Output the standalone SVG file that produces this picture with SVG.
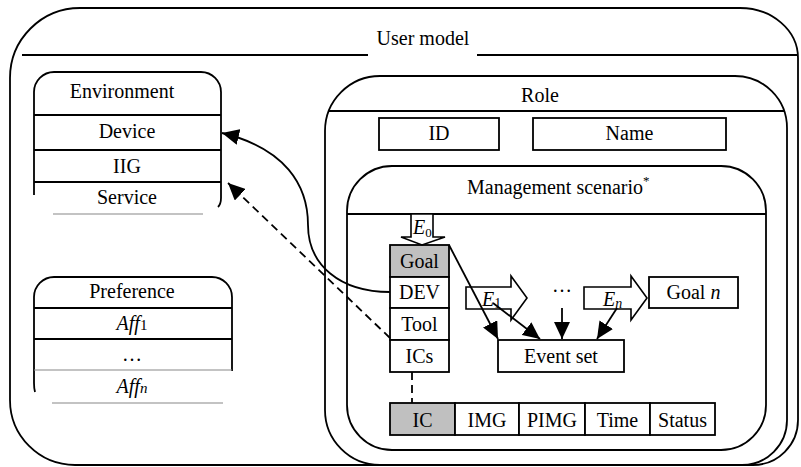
<svg xmlns="http://www.w3.org/2000/svg" width="801" height="467" viewBox="0 0 801 467">
  <defs>
    <marker id="head" markerUnits="userSpaceOnUse" markerWidth="18" markerHeight="16" refX="17" refY="8" orient="auto">
      <path d="M0,0 L17,8 L0,16 Z" fill="#000"/>
    </marker>
    <style>
      .ln { fill: none; stroke: #000; stroke-width: 1.8; }
      .box { fill: #fff; stroke: #000; stroke-width: 1.8; }
      .grey { fill: #c0c0c0; stroke: #000; stroke-width: 1.8; }
      .faint { fill: none; stroke: #888; stroke-width: 1.2; }
      .dash { fill: none; stroke: #000; stroke-width: 1.8; stroke-dasharray: 8 5; }
      .hollow { fill: #fff; stroke: #000; stroke-width: 1.6; stroke-linejoin: miter; }
      text { font-family: "Liberation Serif", "Times New Roman", serif; font-size: 20px; fill: #000; }
      .c { text-anchor: middle; }
      .it { font-style: italic; }
    </style>
  </defs>
  <rect x="0" y="0" width="801" height="467" fill="#fff"/>

  <!-- User model container -->
  <g id="user-model">
    <path class="ln" d="M80,8 L740,8 A58,50 0 0 1 798,58 L798,420 A45,45 0 0 1 753,465 L75,465 A65,65 0 0 1 10,400 L10,78 A70,70 0 0 1 80,8 Z"/>
    <line class="ln" x1="22" y1="55" x2="368" y2="55"/>
    <line class="ln" x1="477" y1="55" x2="798" y2="55"/>
    <text class="c" x="423" y="45">User model</text>
  </g>

  <!-- Environment -->
  <g id="environment">
    <path class="ln" d="M34,195 L34,92 A20,20 0 0 1 54,72 L201,72 A20,20 0 0 1 221,92 L221,198 Q221,204 218,207"/>
    <line class="ln" x1="34" y1="115" x2="221" y2="115"/>
    <line class="ln" x1="34" y1="150" x2="221" y2="150"/>
    <line class="ln" x1="34" y1="182" x2="221" y2="182"/>
    <line class="faint" x1="53" y1="214" x2="203" y2="214"/>
    <text class="c" x="122" y="98">Environment</text>
    <text class="c" x="127" y="138">Device</text>
    <text class="c" x="127" y="173">IIG</text>
    <text class="c" x="127" y="204">Service</text>
  </g>

  <!-- Preference -->
  <g id="preference">
    <path class="ln" d="M35,392 Q34,388 34,383 L34,297 A20,20 0 0 1 54,277 L212,277 A20,20 0 0 1 232,297 L232,371"/>
    <line class="ln" x1="34" y1="308" x2="232" y2="308"/>
    <line class="ln" x1="34" y1="339" x2="232" y2="339"/>
    <line class="faint" x1="34" y1="370" x2="232" y2="370"/>
    <line class="faint" x1="52" y1="403" x2="223" y2="403"/>
    <text class="c" x="132" y="298">Preference</text>
    <text class="c it" x="132" y="330">Aff<tspan font-style="normal" font-size="15">1</tspan></text>
    <text class="c" x="132" y="361" font-size="16">…</text>
    <text class="c it" x="132" y="393">Aff<tspan font-size="15">n</tspan></text>
  </g>

  <!-- Role -->
  <g id="role">
    <path class="ln" d="M380,76 L735,76 A52,52 0 0 1 787,128 L787,420 A45,45 0 0 1 742,465 L380,465 A55,55 0 0 1 325,410 L325,131 A55,55 0 0 1 380,76 Z"/>
    <line class="ln" x1="329" y1="111" x2="784" y2="111"/>
    <text class="c" x="540" y="102">Role</text>
  </g>
  <g id="role-id">
    <rect class="box" x="379" y="118" width="120" height="32"/>
    <text class="c" x="439" y="140">ID</text>
  </g>
  <g id="role-name">
    <rect class="box" x="533" y="118" width="193" height="32"/>
    <text class="c" x="629.5" y="140">Name</text>
  </g>

  <!-- Management scenario -->
  <g id="management-scenario">
    <path class="ln" d="M392,166 L721,166 A45,45 0 0 1 766,211 L766,405 A45,45 0 0 1 721,450 L392,450 A45,45 0 0 1 347,405 L347,211 A45,45 0 0 1 392,166 Z"/>
    <line class="ln" x1="347" y1="214" x2="766" y2="214"/>
    <text x="467" y="194">Management scenario<tspan font-size="13" dy="-9">*</tspan></text>
  </g>

  <!-- Goal column -->
  <g id="goal-column">
    <rect class="grey" x="390" y="245" width="59" height="32"/>
    <rect class="box" x="390" y="277" width="59" height="31"/>
    <rect class="box" x="390" y="308" width="59" height="32"/>
    <rect class="box" x="390" y="340" width="59" height="32"/>
    <text class="c" x="419.5" y="268">Goal</text>
    <text class="c" x="419.5" y="299">DEV</text>
    <text class="c" x="419.5" y="331">Tool</text>
    <text class="c" x="419.5" y="363">ICs</text>
  </g>

  <!-- Event arrows -->
  <g id="event-e0">
    <path class="hollow" d="M411,214 L433,214 L433,237 L445,237 L422,245 L401,237 L411,237 Z"/>
    <text class="it" x="413" y="234" font-size="18">E<tspan font-style="normal" font-size="13" dy="3">0</tspan></text>
  </g>
  <g id="event-e1">
    <path class="hollow" d="M466,287 L511,287 L511,276 L527,298 L511,320 L511,309 L466,309 Z"/>
    <text class="it" x="482" y="306">E<tspan font-style="normal" font-size="14" dy="2">1</tspan></text>
  </g>
  <g id="event-ellipsis">
    <text class="c" x="562" y="292" font-size="16">…</text>
  </g>
  <g id="event-en">
    <path class="hollow" d="M584,287 L631,287 L631,276 L647,298 L631,320 L631,309 L584,309 Z"/>
    <text class="it" x="603" y="306">E<tspan font-size="14" dy="2">n</tspan></text>
  </g>
  <g id="goal-n">
    <rect class="box" x="649" y="277" width="89" height="31"/>
    <text class="c" x="693.5" y="299">Goal <tspan class="it">n</tspan></text>
  </g>
  <g id="event-set">
    <rect class="box" x="498" y="340" width="126" height="32"/>
    <text class="c" x="561" y="363">Event set</text>
  </g>

  <!-- IC record -->
  <g id="ic-record">
    <rect class="grey" x="390" y="403" width="65" height="32"/>
    <rect class="box" x="455" y="403" width="64" height="32"/>
    <rect class="box" x="519" y="403" width="66" height="32"/>
    <rect class="box" x="585" y="403" width="65" height="32"/>
    <rect class="box" x="650" y="403" width="65" height="32"/>
    <text class="c" x="422.5" y="427">IC</text>
    <text class="c" x="487" y="427">IMG</text>
    <text class="c" x="552" y="427">PIMG</text>
    <text class="c" x="617.5" y="427">Time</text>
    <text class="c" x="682.5" y="427">Status</text>
  </g>

  <!-- Connectors -->
  <g id="connectors">
    <path class="ln" d="M390,292 C340,292 308,265 308,225 C308,185 285,148 222,133" marker-end="url(#head)"/>
    <line class="dash" x1="390" y1="338" x2="228" y2="183" marker-end="url(#head)"/>
    <line class="dash" x1="412" y1="372" x2="412" y2="403"/>
    <line class="ln" x1="449" y1="245" x2="498" y2="339" marker-end="url(#head)"/>
    <line class="ln" x1="493" y1="303" x2="540" y2="339" marker-end="url(#head)"/>
    <line class="ln" x1="562" y1="308" x2="562" y2="339" marker-end="url(#head)"/>
    <line class="ln" x1="617" y1="308" x2="597" y2="339" marker-end="url(#head)"/>
  </g>
</svg>
